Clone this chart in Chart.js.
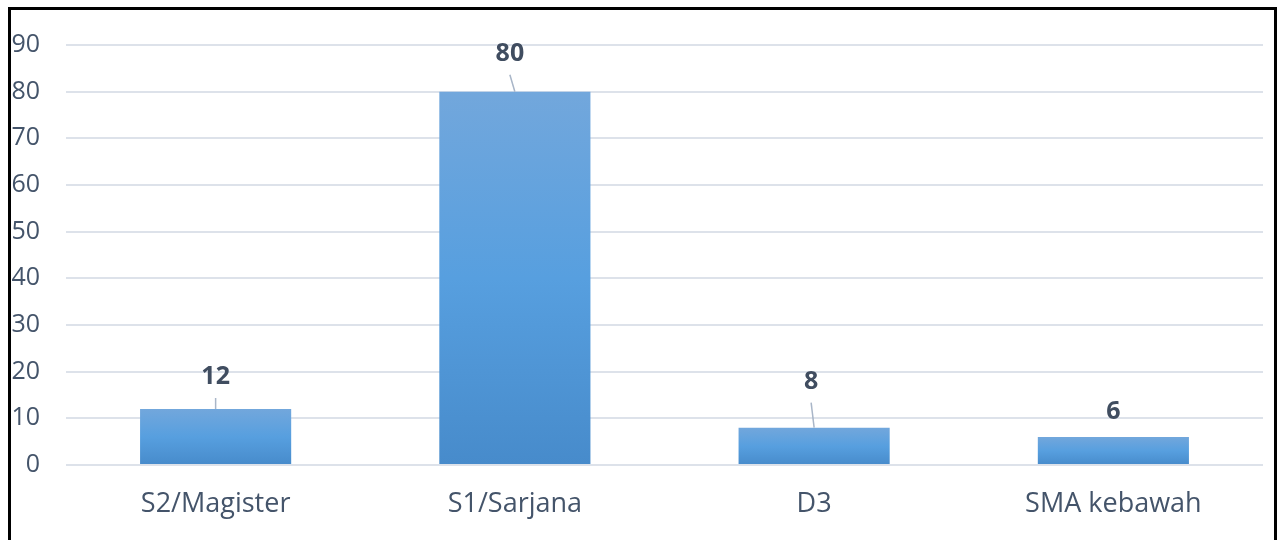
<!DOCTYPE html>
<html>
<head>
<meta charset="utf-8">
<script src="https://cdn.jsdelivr.net/npm/chart.js@4.4.1/dist/chart.umd.min.js"></script>
<style>
  html, body { margin: 0; padding: 0; background: #fff; }
  #wrap { position: relative; width: 1277px; height: 540px; overflow: hidden; }
  #frame { position: absolute; left: 8px; top: 7px; width: 1263px; height: 600px; border: 3px solid #000; pointer-events: none; }
  canvas { position: absolute; left: 0; top: 0; }
</style>
</head>
<body>
<div id="wrap">
  <canvas id="c" width="1277" height="540"></canvas>
  <div id="frame"></div>
</div>
<script>
const categories = ['S2/Magister', 'S1/Sarjana', 'D3', 'SMA kebawah'];
const values = [12, 80, 8, 6];
const yTicks = [0, 10, 20, 30, 40, 50, 60, 70, 80, 90];

const textColor = '#44546a';
const fontFamily = '"Open Sans", "Noto Sans", sans-serif';

const labelPlugin = {
  id: 'barLabels',
  afterDatasetsDraw(chart, args, opts) {
    const ctx = chart.ctx;
    const meta = chart.getDatasetMeta(0);
    ctx.save();
    meta.data.forEach((bar, i) => {
      const off = opts.offsets[i] || {dx: 0, dy: -30};
      const lx = bar.x + off.dx;
      const ly = bar.y + off.dy;
      const startY = ly + 21;
      if (bar.y - startY > 8) {
        ctx.beginPath();
        ctx.strokeStyle = '#a9b6c8';
        ctx.lineWidth = 1.5;
        ctx.moveTo(lx, startY);
        ctx.lineTo(bar.x, bar.y);
        ctx.stroke();
      }
      ctx.fillStyle = '#404d60';
      ctx.font = 'bold 25px ' + fontFamily;
      ctx.textAlign = 'center';
      ctx.textBaseline = 'middle';
      ctx.fillText(String(chart.data.datasets[0].data[i]), lx, ly);
    });
    ctx.restore();
  }
};

function barGradient(context) {
  const chart = context.chart;
  const ys = chart.scales && chart.scales.y;
  if (!chart.chartArea || !ys || context.type !== 'data') return '#5b9fe0';
  const v = context.raw;
  const top = ys.getPixelForValue(v);
  const bottom = ys.getPixelForValue(0);
  if (!isFinite(top) || !isFinite(bottom) || top === bottom) return '#5b9fe0';
  const g = chart.ctx.createLinearGradient(0, top, 0, bottom);
  g.addColorStop(0, '#72a7dc');
  g.addColorStop(0.5, '#579fdf');
  g.addColorStop(1, '#478bcb');
  return g;
}

new Chart(document.getElementById('c'), {
  type: 'bar',
  data: {
    labels: categories,
    datasets: [{
      data: values,
      backgroundColor: barGradient,
      borderWidth: 0,
      categoryPercentage: 1.0,
      barPercentage: 0.505
    }]
  },
  options: {
    responsive: false,
    animation: false,
    layout: { padding: { left: 12, right: 14, top: 45, bottom: 0 } },
    plugins: {
      legend: { display: false },
      tooltip: { enabled: false },
      barLabels: {
        offsets: [{dx: 0, dy: -32}, {dx: -5, dy: -38}, {dx: -3, dy: -46}, {dx: 0, dy: -25}]
      }
    },
    scales: {
      x: {
        grid: { display: false, drawTicks: false },
        border: { display: false },
        ticks: { color: textColor, font: { family: fontFamily, size: 27 }, padding: 23 },
        afterFit(axis) { axis.height = 75; }
      },
      y: {
        min: 0,
        max: 90,
        afterBuildTicks(axis) { axis.ticks = yTicks.map(v => ({ value: v })); },
        grid: { color: '#dde2ea', lineWidth: 2, drawTicks: false },
        border: { display: false },
        ticks: { color: textColor, font: { family: fontFamily, size: 25 }, padding: 26 },
        afterFit(axis) { axis.width = 54; }
      }
    }
  },
  plugins: [labelPlugin]
});
</script>
</body>
</html>
